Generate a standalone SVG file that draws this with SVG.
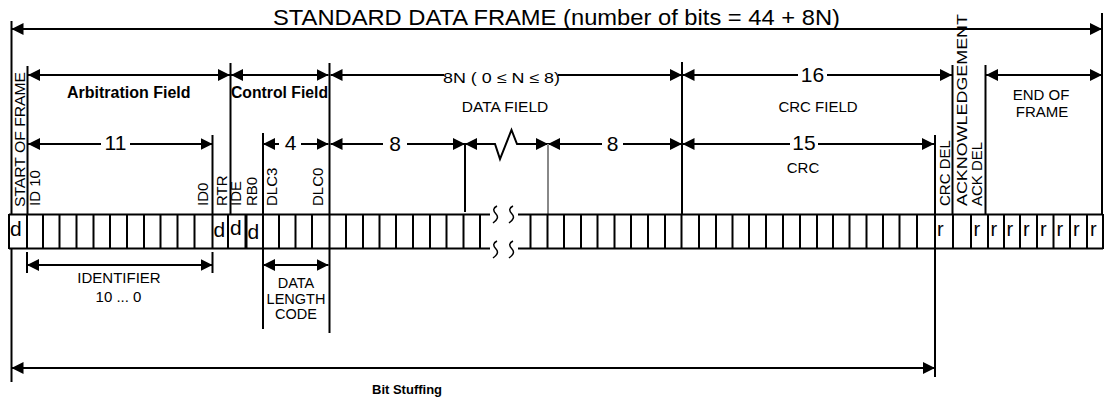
<svg xmlns="http://www.w3.org/2000/svg" width="1110" height="402" viewBox="0 0 1110 402">
<defs>
<marker id="ah" viewBox="0 0 12 12" refX="12" refY="6" markerWidth="12" markerHeight="12" markerUnits="userSpaceOnUse" orient="auto-start-reverse"><path d="M0,0 L12,6 L0,12 z" fill="#000"/></marker>
</defs>
<style>
.ln{stroke:#000;stroke-width:2;fill:none}
.gr{stroke:#888;stroke-width:2;fill:none}
.a2{marker-start:url(#ah);marker-end:url(#ah)}
.as{marker-start:url(#ah)}
.ae{marker-end:url(#ah)}
text{font-family:"Liberation Sans",Arial,Helvetica,sans-serif;fill:#000}
.b{font-weight:bold}
.s15{font-size:15px}
.n{font-size:21px;text-anchor:middle}
.m{text-anchor:middle}
.bit{font-size:21px}
.sq{stroke:#000;stroke-width:1.5;fill:none}
</style>
<rect width="1110" height="402" fill="#fff"/>

<g id="connectors">
  <line class="ln a2" x1="11.5" y1="29" x2="1102" y2="29"/>
  <line class="ln a2" x1="28" y1="75" x2="230" y2="75"/>
  <line class="ln a2" x1="231" y1="75" x2="328.5" y2="75"/>
  <line class="ln as" x1="330.5" y1="75" x2="444" y2="75"/>
  <line class="ln ae" x1="558" y1="75" x2="682" y2="75"/>
  <line class="ln as" x1="682.5" y1="75" x2="798" y2="75"/>
  <line class="ln ae" x1="827" y1="75" x2="952" y2="75"/>
  <line class="ln a2" x1="986" y1="75" x2="1102" y2="75"/>
  <line class="ln as" x1="28" y1="144" x2="101" y2="144"/>
  <line class="ln ae" x1="130" y1="144" x2="212.5" y2="144"/>
  <line class="ln as" x1="263" y1="144" x2="279" y2="144"/>
  <line class="ln ae" x1="301" y1="144" x2="328.5" y2="144"/>
  <line class="ln as" x1="330.5" y1="144" x2="383" y2="144"/>
  <line class="ln ae" x1="407" y1="144" x2="465" y2="144"/>
  <path class="ln a2" d="M465,144 H495 L500,159 L511.5,130 L517,144 H548"/>
  <line class="ln as" x1="548" y1="144" x2="602" y2="144"/>
  <line class="ln ae" x1="623" y1="144" x2="682" y2="144"/>
  <line class="ln as" x1="682.5" y1="144" x2="790" y2="144"/>
  <line class="ln ae" x1="818" y1="144" x2="934" y2="144"/>
  <line class="ln" x1="11.5" y1="21" x2="11.5" y2="214"/>
  <line class="ln" x1="11.5" y1="248" x2="11.5" y2="382"/>
  <line class="ln" x1="27.5" y1="66" x2="27.5" y2="214"/>
  <line class="ln" x1="212.5" y1="135" x2="212.5" y2="214"/>
  <line class="ln" x1="230.5" y1="63" x2="230.5" y2="214"/>
  <line class="ln" x1="263" y1="133" x2="263" y2="214"/>
  <line class="ln" x1="329.5" y1="63" x2="329.5" y2="333"/>
  <line class="ln" x1="465" y1="144" x2="465" y2="212"/>
  <line class="gr" x1="548" y1="144" x2="548" y2="214"/>
  <line class="ln" x1="682" y1="62" x2="682" y2="214"/>
  <line class="ln" x1="935" y1="135" x2="935" y2="377"/>
  <line class="ln" x1="952.5" y1="65" x2="952.5" y2="214"/>
  <line class="ln" x1="985.5" y1="65" x2="985.5" y2="214"/>
  <line class="ln" x1="1102" y1="13" x2="1102" y2="214"/>
  <line class="ln" x1="27" y1="252" x2="27" y2="273"/>
  <line class="ln" x1="212.5" y1="252" x2="212.5" y2="273"/>
  <line class="ln a2" x1="27" y1="265" x2="212.5" y2="265"/>
  <line class="ln" x1="263" y1="249" x2="263" y2="329"/>
  <line class="ln a2" x1="263" y1="265" x2="328.5" y2="265"/>
  <line class="ln a2" x1="11.5" y1="368" x2="935" y2="368"/>
</g>

<g id="bit-row">
  <path class="ln" d="M9,214.5 H490 M518,214.5 H1103 M9,248.5 H490 M518,248.5 H1103"/>
  <path class="ln" d="M9,214 V249 M27,214 V249 M43,214 V249 M59.5,214 V249 M76.5,214 V249 M93.5,214 V249 M110,214 V249 M127,214 V249 M144,214 V249 M160.5,214 V249 M177.5,214 V249 M194.5,214 V249 M212.5,214 V249 M228,214 V249 M263,214 V249 M279,214 V249 M295.5,214 V249 M312,214 V249 M346,214 V249 M363,214 V249 M379.5,214 V249 M396,214 V249 M413,214 V249 M430,214 V249 M446.5,214 V249 M463.5,214 V249 M480,214 V249 M530.5,214 V249 M547.5,214 V249 M564,214 V249 M581,214 V249 M597.5,214 V249 M614.5,214 V249 M631,214 V249 M648,214 V249 M665,214 V249 M681.5,214 V249 M699,214 V249 M716,214 V249 M732.5,214 V249 M749,214 V249 M766,214 V249 M783,214 V249 M800,214 V249 M817,214 V249 M833,214 V249 M849.5,214 V249 M866.5,214 V249 M883,214 V249 M899.5,214 V249 M917,214 V249 M953,214 V249 M971,214 V249 M988,214 V249 M1004,214 V249 M1020,214 V249 M1037,214 V249 M1053.5,214 V249 M1070,214 V249 M1087,214 V249 M1103,214 V249"/>
  <line x1="246" y1="214" x2="246" y2="249" stroke="#000" stroke-width="3"/>
  <path class="sq" d="M497,206 q-6,3 -1,8 q4,4 -3,9 M513,206 q-6,3 -1,8 q4,4 -3,9 M497,241 q-6,3 -1,8 q4,4 -3,9 M513,241 q-6,3 -1,8 q4,4 -3,9"/>
  <g class="bit">
    <text x="10" y="236">d</text>
    <text x="213.5" y="237">d</text>
    <text x="230" y="235">d</text>
    <text x="247.5" y="239">d</text>
  </g>
  <g style="font-size:20px">
    <text x="937" y="236">r</text>
    <text x="973.5" y="236">r</text>
    <text x="990.5" y="236">r</text>
    <text x="1006.5" y="236">r</text>
    <text x="1023" y="236">r</text>
    <text x="1040" y="236">r</text>
    <text x="1056.5" y="236">r</text>
    <text x="1073" y="236">r</text>
    <text x="1090" y="236">r</text>
  </g>
</g>

<g id="title">
  <text x="273" y="25" style="font-size:21.5px" textLength="567" lengthAdjust="spacingAndGlyphs">STANDARD DATA FRAME (number of bits = 44 + 8N)</text>
</g>

<g id="start-of-frame">
  <text class="s15" transform="translate(25,207) rotate(-90)" textLength="135" lengthAdjust="spacingAndGlyphs">START OF FRAME</text>
</g>

<g id="arbitration-field">
  <text class="b" x="67" y="98" style="font-size:16px">Arbitration Field</text>
  <text class="n" x="115.5" y="150">11</text>
  <text class="s15" transform="translate(40,206) rotate(-90)">ID 10</text>
  <text class="s15" transform="translate(208,206) rotate(-90)">ID0</text>
  <text class="s15" transform="translate(227,206) rotate(-90)">RTR</text>
</g>

<g id="identifier">
  <text class="s15 m" x="119" y="283">IDENTIFIER</text>
  <text class="s15 m" x="118.5" y="302">10 ... 0</text>
</g>

<g id="control-field">
  <text class="b" x="231" y="98" style="font-size:16px" textLength="97" lengthAdjust="spacingAndGlyphs">Control Field</text>
  <text class="n" x="290.5" y="150">4</text>
  <text class="s15" transform="translate(241,206) rotate(-90)">IDE</text>
  <text class="s15" transform="translate(257,206) rotate(-90)">RB0</text>
  <text class="s15" transform="translate(277,206) rotate(-90)">DLC3</text>
  <text class="s15" transform="translate(323,206) rotate(-90)">DLC0</text>
</g>

<g id="data-length-code">
  <text class="m" x="296" y="288" style="font-size:14.5px">DATA</text>
  <text class="m" x="296" y="303.5" style="font-size:14.5px">LENGTH</text>
  <text class="m" x="296" y="319" style="font-size:14.5px">CODE</text>
</g>

<g id="data-field">
  <text x="443" y="83" style="font-size:15px" textLength="117" lengthAdjust="spacingAndGlyphs">8N ( 0 ≤ N ≤ 8)</text>
  <text class="m" x="505" y="111.5" style="font-size:15.5px">DATA FIELD</text>
  <text class="n" x="395" y="151">8</text>
  <text class="n" x="612.5" y="151">8</text>
</g>

<g id="crc-field">
  <text class="n" x="812.5" y="82">16</text>
  <text class="s15 m" x="818" y="111.5">CRC FIELD</text>
  <text class="n" x="804" y="150">15</text>
  <text class="s15 m" x="803" y="173">CRC</text>
  <text class="s15" transform="translate(950,206) rotate(-90)">CRC DEL</text>
</g>

<g id="acknowledgement">
  <text class="s15" transform="translate(967,206) rotate(-90)" textLength="192" lengthAdjust="spacingAndGlyphs">ACKNOWLEDGEMENT</text>
  <text class="s15" transform="translate(982,206) rotate(-90)">ACK DEL</text>
</g>

<g id="end-of-frame">
  <text class="s15 m" x="1041" y="100">END OF</text>
  <text class="s15 m" x="1042" y="116.5">FRAME</text>
</g>

<g id="bit-stuffing">
  <text class="b" x="372" y="394" style="font-size:13px">Bit Stuffing</text>
</g>
</svg>
